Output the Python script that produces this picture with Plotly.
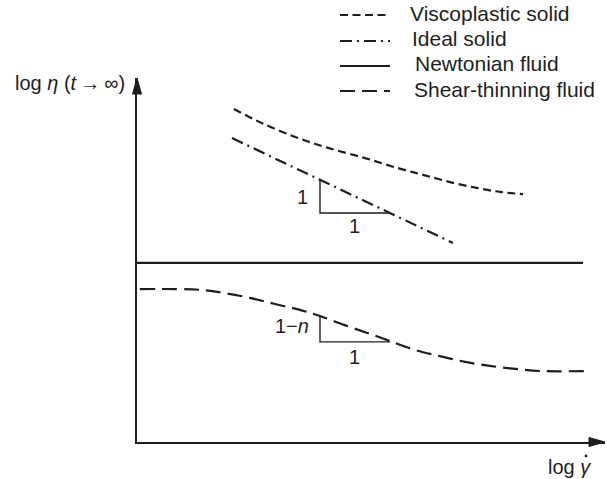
import plotly.graph_objects as go

# ---- data (abstract log units) ----
visco_x = [2.07, 2.67, 3.38, 4.08, 4.87, 5.56, 6.11, 6.69, 7.26, 7.76, 8.25]
visco_y = [9.15, 8.76, 8.38, 8.08, 7.80, 7.53, 7.34, 7.14, 6.98, 6.87, 6.81]

ideal_x = [2.03, 6.75]
ideal_y = [8.35, 5.47]

newton_x = [0.0, 9.53]
newton_y = [4.92, 4.92]

shear_x = [0.06, 1.35, 1.88, 2.41, 2.95, 3.48, 3.91, 4.44, 4.98, 5.41, 5.94, 6.47, 7.01, 7.54, 8.08, 8.61, 9.57]
shear_y = [4.20, 4.18, 4.09, 3.96, 3.79, 3.63, 3.46, 3.21, 2.97, 2.77, 2.53, 2.36, 2.20, 2.09, 2.01, 1.95, 1.95]

tri1_x = [3.91, 3.91, 5.41]
tri1_y = [7.23, 6.29, 6.29]
tri2_x = [3.91, 3.91, 5.41]
tri2_y = [3.46, 2.75, 2.75]

tri_label_text = ["1", "1", "1\u2212<i>n</i>", "1"]
tri_label_x = [3.53, 4.64, 3.72, 4.64]
tri_label_y = [6.73, 5.93, 3.19, 2.34]
tri_label_anchor = ["center", "center", "right", "center"]

legend_names = ["Viscoplastic solid", "Ideal solid", "Newtonian fluid", "Shear-thinning fluid"]

INK = "#1e1e1e"
FONT = "Liberation Sans, Arial, Helvetica, sans-serif"
D_VISCO = "8px,4.5px"
D_IDEAL = "12px,5px,2px,5px"
D_SHEAR = "15px,7px"

fig = go.Figure()
fig.add_trace(go.Scatter(x=visco_x, y=visco_y, mode="lines", line=dict(color=INK, width=2.2, dash=D_VISCO, shape="spline")))
fig.add_trace(go.Scatter(x=ideal_x, y=ideal_y, mode="lines", line=dict(color=INK, width=2.2, dash=D_IDEAL)))
fig.add_trace(go.Scatter(x=newton_x, y=newton_y, mode="lines", line=dict(color=INK, width=2.2)))
fig.add_trace(go.Scatter(x=shear_x, y=shear_y, mode="lines", line=dict(color=INK, width=2.2, dash=D_SHEAR, shape="spline")))
fig.add_trace(go.Scatter(x=tri1_x, y=tri1_y, mode="lines", line=dict(color=INK, width=1.4)))
fig.add_trace(go.Scatter(x=tri2_x, y=tri2_y, mode="lines", line=dict(color=INK, width=1.4)))

annotations = []
for t, x, y, a in zip(tri_label_text, tri_label_x, tri_label_y, tri_label_anchor):
    annotations.append(dict(x=x, y=y, xref="x", yref="y", text=t, showarrow=False,
                            xanchor=a, yanchor="middle", font=dict(size=20, color=INK, family=FONT)))

# legend (manual)
PL, PW, PT, PH = 137, 468, 78, 364
def px(v):
    return (v - PL) / PW
def py(v):
    return (PT + PH - v) / PH

leg_dash = [D_VISCO, D_IDEAL, "solid", D_SHEAR]
leg_line_y = [15, 41, 66, 91]
leg_text_y = [14, 39, 64, 89]
leg_text_x = [408, 410, 413, 412]
shapes = []
for name, d, ly, ty, tx in zip(legend_names, leg_dash, leg_line_y, leg_text_y, leg_text_x):
    shapes.append(dict(type="line", xref="paper", yref="paper", x0=px(340), x1=px(390), y0=py(ly), y1=py(ly),
                       line=dict(color=INK, width=2, dash=d)))
    annotations.append(dict(x=px(tx), y=py(ty), xref="paper", yref="paper", text=name, showarrow=False,
                            xanchor="left", yanchor="middle", font=dict(size=21, color=INK, family=FONT)))

# axis arrowheads
shapes.append(dict(type="path", xref="paper", yref="paper", xsizemode="pixel", ysizemode="pixel",
                   xanchor=0, yanchor=1, path="M-4.5,-16 L0,0 L4.5,-16 Z",
                   fillcolor=INK, line=dict(color=INK, width=1)))
shapes.append(dict(type="path", xref="paper", yref="paper", xsizemode="pixel", ysizemode="pixel",
                   xanchor=1, yanchor=0, path="M-16,-4.5 L0,0 L-16,4.5 Z",
                   fillcolor=INK, line=dict(color=INK, width=1)))

# axis labels
annotations.append(dict(x=px(127), y=py(83), xref="paper", yref="paper",
                        text="log <i>\u03b7</i> (<i>t</i>\u2009\u2192\u2009\u221e)", showarrow=False,
                        xanchor="right", yanchor="middle", font=dict(size=20, color=INK, family=FONT)))
annotations.append(dict(x=px(593), y=py(467), xref="paper", yref="paper",
                        text="log <i>\u03b3</i>", showarrow=False,
                        xanchor="right", yanchor="middle", font=dict(size=20, color=INK, family=FONT)))
# dot over gamma
shapes.append(dict(type="circle", xref="paper", yref="paper", xsizemode="pixel", ysizemode="pixel",
                   xanchor=px(586), yanchor=py(456), x0=-1.4, x1=1.4, y0=-1.4, y1=1.4,
                   fillcolor=INK, line=dict(width=0)))

fig.update_layout(
    width=607, height=479,
    margin=dict(l=PL, r=607 - PL - PW, t=PT, b=479 - PT - PH),
    paper_bgcolor="white", plot_bgcolor="white",
    showlegend=False,
    xaxis=dict(range=[0, 10], showgrid=False, zeroline=False, showticklabels=False, ticks="",
               showline=True, linecolor=INK, linewidth=1.8),
    yaxis=dict(range=[0, 10], showgrid=False, zeroline=False, showticklabels=False, ticks="",
               showline=True, linecolor=INK, linewidth=1.8),
    shapes=shapes, annotations=annotations,
)

fig.write_html("out.html", config={"displayModeBar": False},
               post_script="document.body.style.margin='0px';document.body.style.overflow='hidden';")
